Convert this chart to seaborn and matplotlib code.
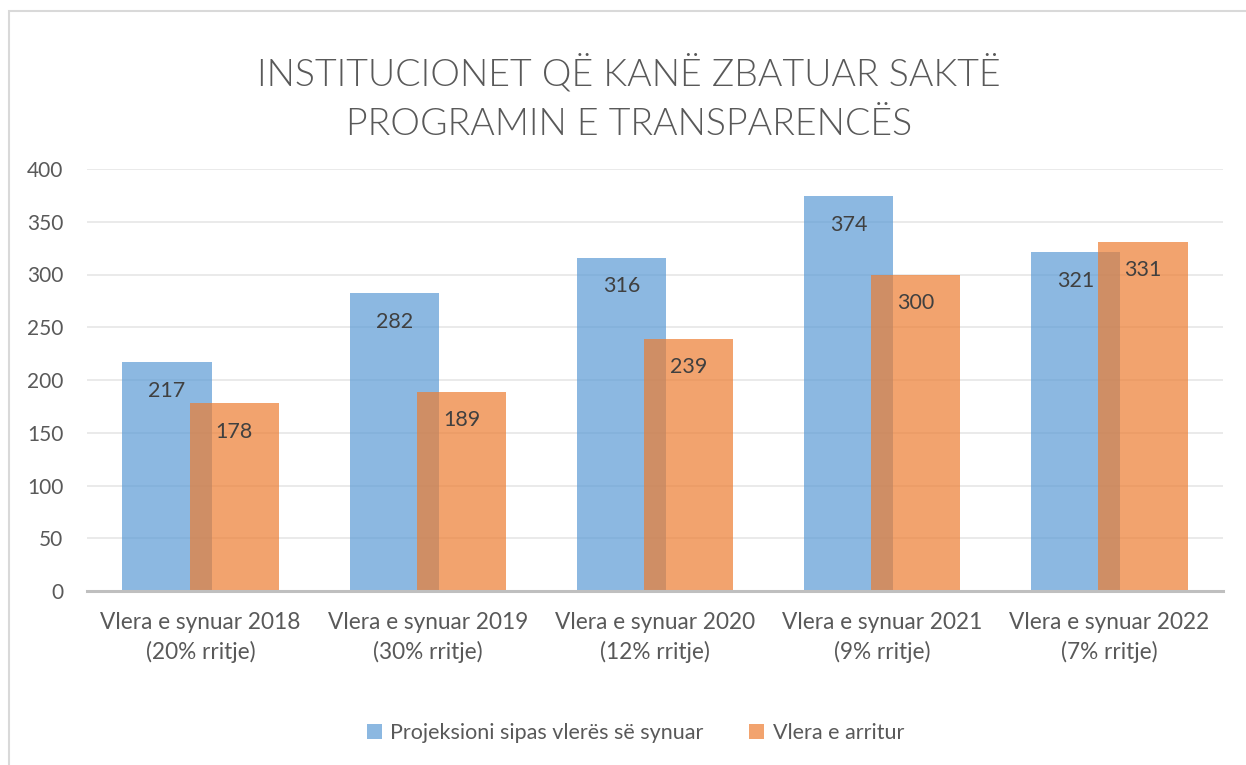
import numpy as np
import pandas as pd
import matplotlib
matplotlib.use("Agg")
import matplotlib.pyplot as plt
import seaborn as sns
from matplotlib.patches import Patch, Rectangle

categories = ["Vlera e synuar 2018\n(20% rritje)",
              "Vlera e synuar 2019\n(30% rritje)",
              "Vlera e synuar 2020\n(12% rritje)",
              "Vlera e synuar 2021\n(9% rritje)",
              "Vlera e synuar 2022\n(7% rritje)"]
projeksioni = [217, 282, 316, 374, 321]
arritur = [178, 189, 239, 300, 331]
series_names = ["Projeksioni sipas vlerës së synuar", "Vlera e arritur"]
title = "INSTITUCIONET QË KANË ZBATUAR SAKTË\nPROGRAMIN E TRANSPARENCËS"
yticks = [0, 50, 100, 150, 200, 250, 300, 350, 400]

sns.set_style("white")
plt.rcParams['font.family'] = ['Lato', 'DejaVu Sans']

TXT = "#595959"
BLUE = "#5B9BD5"
ORANGE = "#ED7D31"
ALPHA = 0.7

fig = plt.figure(figsize=(12.46, 7.65), dpi=100)
ax = fig.add_axes([87/1246, 1-591/765, (1223-87)/1246, (591-169)/765])

pos = np.arange(len(categories))
off = 0.148
bw = 0.392

sns.barplot(x=pos - off, y=projeksioni, native_scale=True, width=bw,
            color=BLUE, alpha=ALPHA, saturation=1, ax=ax, linewidth=0, zorder=2)
sns.barplot(x=pos + off, y=arritur, native_scale=True, width=bw,
            color=ORANGE, alpha=ALPHA, saturation=1, ax=ax, linewidth=0, zorder=3)

for x, v in zip(pos - off, projeksioni):
    ax.annotate(str(v), (x, v), xytext=(0, -20.5), textcoords="offset points",
                ha="center", va="center", fontsize=15.5, color="#404040", zorder=5)
for x, v in zip(pos + off, arritur):
    ax.annotate(str(v), (x, v), xytext=(0, -20.5), textcoords="offset points",
                ha="center", va="center", fontsize=15.5, color="#404040", zorder=5)

ax.set_xlim(-0.5, len(categories) - 0.5)
ax.set_ylim(0, 400)
ax.set_yticks(yticks)
ax.set_yticklabels([str(t) for t in yticks], fontsize=15, color=TXT)
ax.set_xticks(pos)
ax.set_xticklabels(categories, fontsize=16.3, color=TXT, linespacing=1.45)
ax.tick_params(axis="both", length=0)
ax.tick_params(axis="y", pad=17)
ax.tick_params(axis="x", pad=15)
ax.set_xlabel("")
ax.set_ylabel("")
ax.grid(axis="y", color="#E6E6E6", linewidth=1.2, zorder=0)
ax.set_axisbelow(True)
for s in ["top", "right", "left"]:
    ax.spines[s].set_visible(False)
ax.spines["bottom"].set_color("#BFBFBF")
ax.spines["bottom"].set_linewidth(2.2)
ax.spines["bottom"].set_zorder(4)

fig.text(0.505, 1 - 98/765, title, ha="center", va="center", fontsize=27,
         color=TXT, fontweight=300, linespacing=1.55)

handles = [Patch(facecolor=BLUE, alpha=ALPHA, edgecolor="none"),
           Patch(facecolor=ORANGE, alpha=ALPHA, edgecolor="none")]
fig.legend(handles, series_names, loc="center", bbox_to_anchor=(0.51, 1 - 733/765),
           ncol=2, frameon=False, fontsize=15.5, labelcolor=TXT,
           handlelength=0.7, handleheight=0.7, handletextpad=0.4, columnspacing=2.1)

fig.add_artist(Rectangle((9/1246, -0.1), 1.2, 1 - 11/765 + 0.1, transform=fig.transFigure,
                         fill=False, edgecolor="#D9D9D9", linewidth=1.5))

fig.savefig("out.png", dpi=100)
